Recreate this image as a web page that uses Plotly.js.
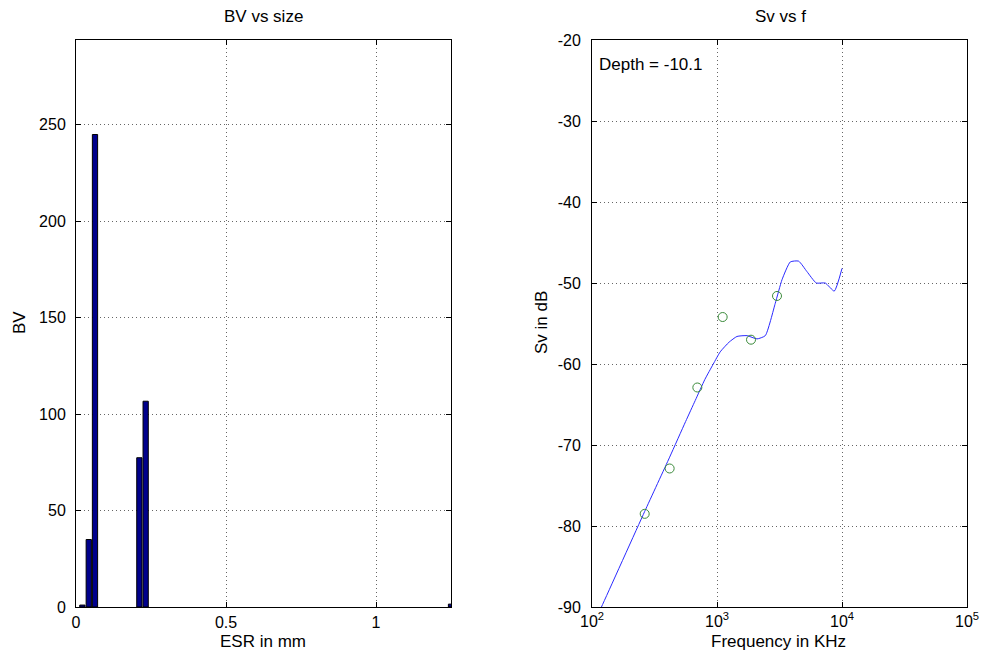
<!DOCTYPE html>
<html>
<head>
<meta charset="utf-8">
<script src="https://cdn.plot.ly/plotly-3.0.1.min.js"></script>
<style>
  html, body { margin: 0; padding: 0; background: #fff; }
  #chart { width: 982px; height: 654px; }
</style>
</head>
<body>
<div id="chart"></div>
<script>
// Left panel: bead volume per equivalent spherical radius bin
const esrCenters = [0.0212, 0.0425, 0.0633, 0.2112, 0.2322, 1.2500];
const bvValues   = [1, 35, 245, 77.4, 106.7, 1.5];

// Right panel: fitted volume backscatter spectrum
const freqCurve = [100, 119, 264, 418, 561, 670, 800, 934, 1061, 1250, 1445, 1738, 2089, 2434, 2926, 3311, 3857, 4497, 5248, 6225, 7345, 8673, 10000];
const svCurve   = [-92.5, -90.0, -78.2, -71.5, -67.1, -64.5, -61.9, -60.0, -58.5, -57.3, -56.6, -56.5, -56.9, -56.5, -52.5, -49.6, -47.4, -47.3, -48.6, -50.0, -50.0, -51.0, -48.2];

// Right panel: measured points
const freqMeas = [264, 418, 696, 1110, 1871, 3020];
const svMeas   = [-78.5, -72.9, -62.9, -54.2, -57.0, -51.6];

const leftTicks  = [0, 0.5, 1];
const leftLabels = ['0', '0.5', '1'];
const bvTicks    = [0, 50, 100, 150, 200, 250];
const freqTicks  = [100, 1000, 10000, 100000];
const freqLabels = ['10<sup>2</sup>', '10<sup>3</sup>', '10<sup>4</sup>', '10<sup>5</sup>'];
const svTicks    = [-90, -80, -70, -60, -50, -40, -30, -20];
const svLabels   = svTicks.map(v => String(v));   // plain hyphen-minus

const W = 982, H = 654;
const FONT = 'Liberation Sans, Arial, Helvetica, sans-serif';
const FS = 17;      // titles and labels
const TFS = 16;     // tick labels
const ytop = 1 - 40 / H, ybot = 1 - 607 / H;

const traces = [
  {
    type: 'bar', x: esrCenters, y: bvValues, width: 0.0175,
    marker: { color: '#00008c', line: { color: '#000', width: 1 } },
    xaxis: 'x', yaxis: 'y'
  },
  {
    type: 'scatter', mode: 'lines', x: freqCurve, y: svCurve,
    line: { color: '#2a2aff', width: 1, shape: 'spline', smoothing: 0.5 },
    xaxis: 'x2', yaxis: 'y2'
  },
  {
    type: 'scatter', mode: 'markers', x: freqMeas, y: svMeas,
    marker: { symbol: 'circle-open', size: 9, color: '#3a8a3a', line: { width: 1 } },
    xaxis: 'x2', yaxis: 'y2'
  }
];

const axisCommon = {
  showline: true, linecolor: '#000', linewidth: 1, mirror: 'ticks',
  ticks: 'inside', ticklen: 5, tickcolor: '#000',
  showgrid: true, gridcolor: 'rgba(0,0,0,0.6)', griddash: '1px,3px', gridwidth: 1,
  zeroline: false, tickfont: { family: FONT, size: TFS, color: '#000' }
};

const label = (text, x, y, extra) => Object.assign({
  text: text, xref: 'paper', yref: 'paper', x: x / W, y: 1 - y / H,
  xanchor: 'center', yanchor: 'middle', showarrow: false,
  font: { family: FONT, size: FS, color: '#000' }
}, extra || {});

const layout = {
  width: W, height: H,
  margin: { l: 0, r: 0, t: 0, b: 0 },
  paper_bgcolor: '#fff', plot_bgcolor: '#fff',
  showlegend: false,
  font: { family: FONT, size: FS, color: '#000' },
  xaxis: Object.assign({}, axisCommon, {
    domain: [76 / W, 451 / W], range: [0, 1.25],
    tickvals: leftTicks, ticktext: leftLabels, anchor: 'y', ticklabelstandoff: 1
  }),
  yaxis: Object.assign({}, axisCommon, {
    domain: [ybot, ytop], range: [0, 294],
    tickvals: bvTicks, anchor: 'x', ticklabelstandoff: 6
  }),
  xaxis2: Object.assign({}, axisCommon, {
    type: 'log', domain: [592 / W, 967 / W], range: [2, 5],
    tickvals: freqTicks, ticktext: freqLabels, anchor: 'y2', ticklabelstandoff: 0
  }),
  yaxis2: Object.assign({}, axisCommon, {
    domain: [ybot, ytop], range: [-90, -20],
    tickvals: svTicks, ticktext: svLabels, anchor: 'x2', ticklabelstandoff: 7
  }),
  annotations: [
    label('BV vs size', 263, 16),
    label('Sv vs f', 780, 16),
    label('ESR in mm', 263, 641),
    label('Frequency in KHz', 778, 641),
    label('BV', 19, 323, { textangle: -90 }),
    label('Sv in dB', 541, 323, { textangle: -90 }),
    label('Depth = -10.1', 597, 64, { xanchor: 'left' })
  ]
};

Plotly.newPlot('chart', traces, layout, { staticPlot: true, displayModeBar: false });
</script>
</body>
</html>
